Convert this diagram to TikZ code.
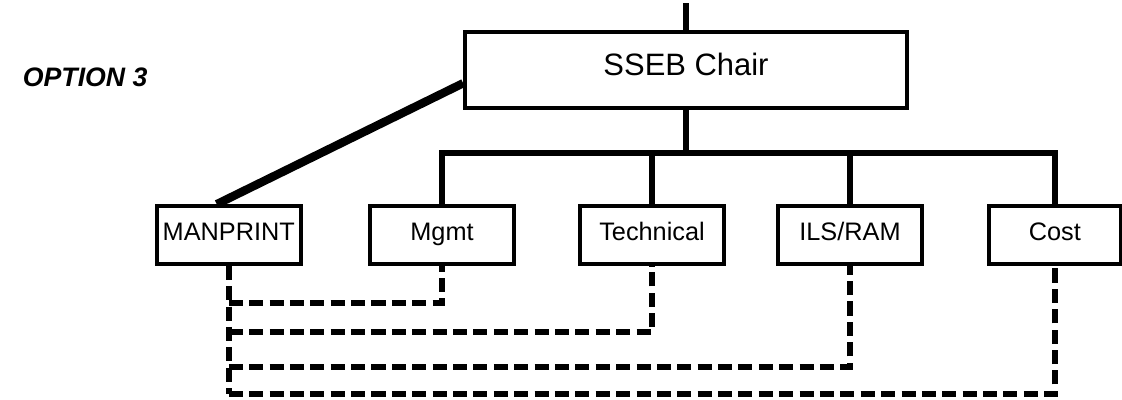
\documentclass[tikz,border=0pt]{standalone}
\usepackage{fontspec}
\setmainfont{Liberation Sans}
\usetikzlibrary{positioning,calc}

\begin{document}
\begin{tikzpicture}[
    font=\fontsize{18}{20}\selectfont,
    board/.style={
      rectangle, draw, line width=2.6pt, align=center,
      minimum width=3.6cm, minimum height=1.45cm,
      text height=0.72em, text depth=0pt,
      inner sep=1pt, fill=white
    },
    conn/.style={line width=4pt},
    heavy/.style={line width=6pt},
    dlink/.style={line width=4pt, dash pattern=on 10pt off 4.5pt}
  ]
    \useasboundingbox (0,0) rectangle (28.05,9.975);

    % Chair of the board and the line coming in from above
    \node[board, minimum width=11.05cm, minimum height=1.9cm,
      font=\fontsize{22}{24}\selectfont] at (17.15,8.225) (chair) {SSEB Chair};
    \coordinate (top) at (17.15,9.9);
    \draw[conn] (top) -- (chair.north);

    \node[font=\fontsize{19}{21}\selectfont\bfseries\itshape]
      at (2.13,8.05) (opt) {OPTION 3};

    % Evaluation areas
    \node[board] at (5.72,4.1) (manprint) {MANPRINT};
    \node[board] at (11.05,4.1) (mgmt) {Mgmt};
    \node[board] at (16.3,4.1) (tech) {Technical};
    \node[board] at (21.25,4.1) (ilsram) {ILS/RAM};
    \node[board, minimum width=3.3cm] at (26.37,4.1) (cost) {Cost};

    % Solid bus below the chair
    \coordinate (bus) at (17.15,6.15);
    \draw[conn] (chair.south) -- (bus);
    \draw[conn] (mgmt.north) -- (mgmt.north |- bus) -- (cost.north |- bus) -- (cost.north);
    \foreach \n in {tech,ilsram}
      \draw[conn] (\n.north) -- (\n.north |- bus);

    % MANPRINT reports straight to the chair
    \draw[heavy] ([xshift=-0.3cm]manprint.north) -- ([yshift=-0.33cm]chair.west);

    % Dashed links from MANPRINT to the other areas
    \coordinate (lvmgmt) at (5.7,2.4);
    \coordinate (lvtech) at (5.7,1.675);
    \coordinate (lvils) at (5.7,0.8);
    \coordinate (lvcost) at (5.7,0.12);
    \draw[dlink] (manprint.south) -- (manprint.south |- lvcost);
    \draw[dlink] (manprint.south |- lvmgmt) -| (mgmt.south);
    \draw[dlink] (manprint.south |- lvtech) -| (tech.south);
    \draw[dlink] (manprint.south |- lvils) -| (ilsram.south);
    \draw[dlink] (manprint.south |- lvcost) -| (cost.south);
  \end{tikzpicture}
\end{document}
